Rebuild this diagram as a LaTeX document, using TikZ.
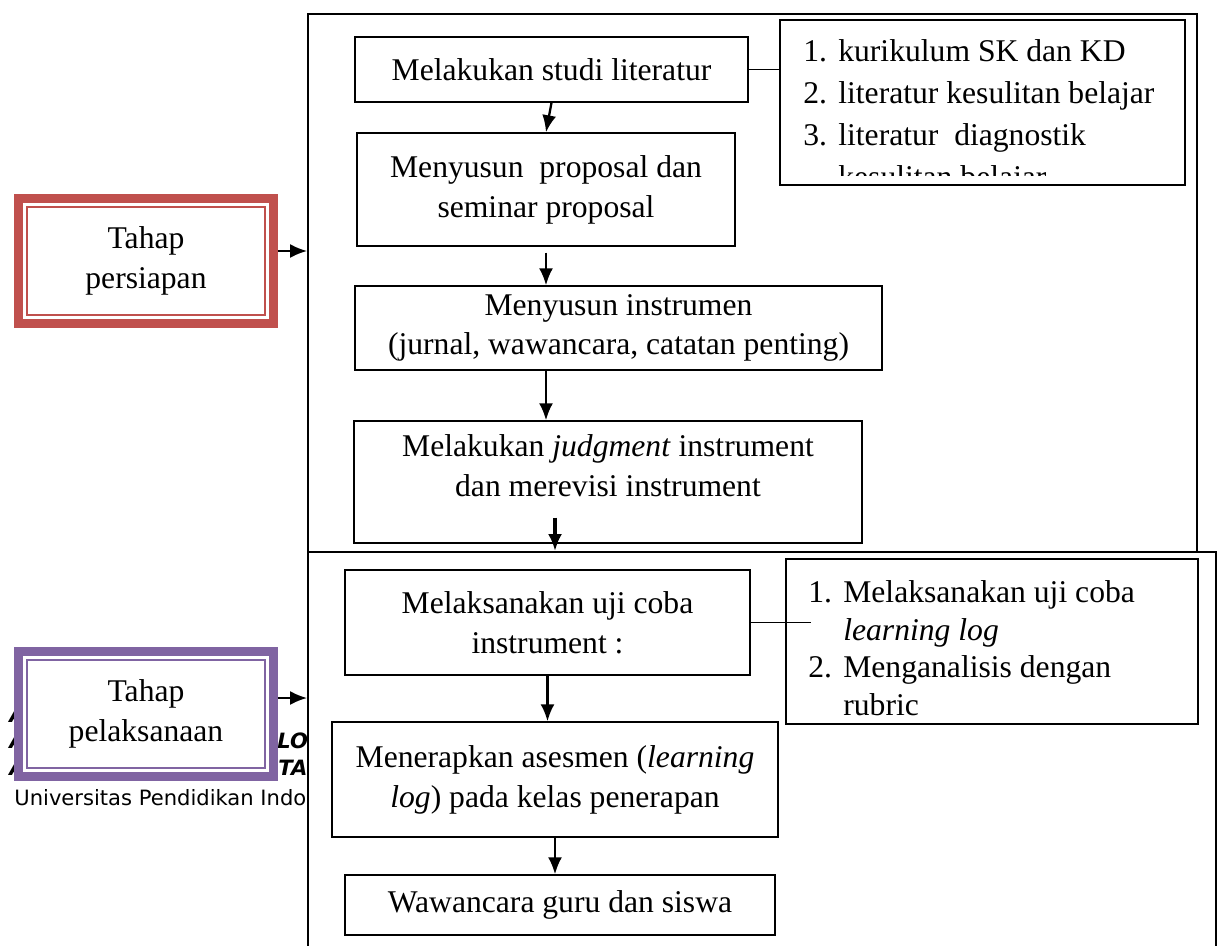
\documentclass[tikz,border=0pt]{standalone}
\usepackage{fontspec}
\setmainfont{Liberation Serif}
\newfontfamily\footfont{DejaVu Sans}
\usepackage{tikz}
\usetikzlibrary{arrows.meta}
\definecolor{prepred}{HTML}{C0504D}
\definecolor{runpurple}{HTML}{8064A2}
\tikzstyle{frame} = [rectangle, draw=black, line width=1.1pt, fill=white]
\tikzstyle{stepbox} = [rectangle, align=center, text centered, draw=black,
    line width=0.85pt, fill=white, font=\fontsize{18}{22.7}\selectfont]
\tikzstyle{listbox} = [rectangle, draw=black, line width=0.85pt, fill=white]
\tikzstyle{listtext} = [anchor=north west, inner sep=0pt, align=left]
\tikzstyle{phase} = [rectangle, minimum width=5.1cm, minimum height=2.5cm,
    align=center, line width=0.18cm, fill=white, font=\fontsize{18}{22.7}\selectfont]
\tikzstyle{foottext} = [anchor=base west, inner sep=0pt, font=\footfont\fontsize{12}{14}\selectfont]
\tikzstyle{footbold} = [foottext, font=\footfont\bfseries\itshape\fontsize{12}{14}\selectfont]
\tikzstyle{arrow} = [line width=1.3pt, -{Latex[length=0.34cm, width=0.28cm]}]

\begin{document}
\begin{tikzpicture}[x=0.02cm, y=-0.02cm]
    \useasboundingbox (0,0) rectangle (1224,946);
    \clip (0,0) rectangle (1224,946);
    % page footer behind the chart
    \node (foot) [foottext] at (14,805) {Universitas Pendidikan Indonesia};
    \node (foota) [footbold] at (9,722) {A};
    \node (footb) [footbold] at (9,748) {A};
    \node (footc) [footbold] at (9,775) {A};
    \node (footlog) [footbold] at (277,748) {LOG};
    \node (footta) [footbold] at (278,775) {TA};

    % frames
    \node (prepframe) [frame, minimum width=17.78cm, minimum height=10.76cm] at (752.5,283) {};
    \node (runframe) [frame, minimum width=18.16cm, minimum height=8.96cm] at (762,776) {};

    % phases
    \node (prep) [phase, draw=prepred] at (146,261) {Tahap\\persiapan};
    \draw [prepred, line width=0.9pt] ([shift={(0.26cm,-0.26cm)}]prep.north west) rectangle ([shift={(-0.26cm,0.26cm)}]prep.south east);
    \node (run) [phase, draw=runpurple] at (146,714) {Tahap\\pelaksanaan};
    \draw [runpurple, line width=0.9pt] ([shift={(0.26cm,-0.26cm)}]run.north west) rectangle ([shift={(-0.26cm,0.26cm)}]run.south east);

    % persiapan
    \node (studi) [stepbox, minimum width=7.86cm, minimum height=1.3cm] at (551.5,69.5) {Melakukan studi literatur};
    \node (list1) [listbox, minimum width=8.1cm, minimum height=3.3cm] at (982.5,102.5) {};
    \begin{scope}
        \clip ([xshift=0.1cm]list1.north west) rectangle ([yshift=0.2cm]list1.south east);
        \node (list1text) [listtext, font=\fontsize{18}{24}\selectfont] at (803,39)
            {\makebox[0.7cm][l]{1.}kurikulum SK dan KD\\
             \makebox[0.7cm][l]{2.}literatur kesulitan belajar\\
             \makebox[0.7cm][l]{3.}literatur\ \ diagnostik\\
             \hspace*{0.7cm}kesulitan belajar};
    \end{scope}
    \node (proposal) [stepbox, minimum width=7.56cm, minimum height=2.26cm] at (546,189.5) {Menyusun\ \ proposal dan\\seminar proposal};
    \node (instrumen) [stepbox, minimum width=10.54cm, minimum height=1.68cm] at (618.5,328) {Menyusun instrumen\\(jurnal, wawancara, catatan penting)};
    \node (judgment) [stepbox, minimum width=10.16cm, minimum height=2.44cm, text depth=0.66cm] at (608,482) {Melakukan \textit{judgment} instrument\\dan merevisi instrument};

    % pelaksanaan
    \node (ujicoba) [stepbox, minimum width=8.1cm, minimum height=2.1cm] at (547.5,622.5) {Melaksanakan uji coba\\instrument :};
    \node (list2) [listbox, minimum width=8.24cm, minimum height=3.3cm] at (992,641.5) {};
    \node (list2text) [listtext, font=\fontsize{18}{21.5}\selectfont] at (808,580)
        {\makebox[0.7cm][l]{1.}Melaksanakan uji coba\\
         \hspace*{0.7cm}\textit{learning log}\\
         \makebox[0.7cm][l]{2.}Menganalisis dengan\\
         \hspace*{0.7cm}rubric};
    \node (menerapkan) [stepbox, minimum width=8.92cm, minimum height=2.3cm] at (555,779.5) {Menerapkan asesmen (\textit{learning}\\\textit{log}) pada kelas penerapan};
    \node (wawancara) [stepbox, minimum width=8.6cm, minimum height=1.2cm] at (560,905) {Wawancara guru dan siswa};

    % connectors
    \draw [arrow] ([yshift=0.2cm]prep.east) -- ([yshift=0.2cm]prep.east -| prepframe.west);
    \draw [arrow] ([yshift=0.32cm]run.east) -- ([yshift=0.32cm]run.east -| runframe.west);
    \draw [arrow] (studi.south) -- (proposal.north);
    \draw [arrow] ([yshift=-0.12cm]proposal.south) -- (proposal.south |- instrumen.north);
    \draw [arrow] (proposal.south |- instrumen.south) -- (proposal.south |- judgment.north);
    \draw [arrow, line width=2pt] ([xshift=-1.06cm, yshift=0.52cm]judgment.south) -- ([xshift=-1.06cm]judgment.south |- runframe.north);
    \draw [arrow] (ujicoba.south) -- (ujicoba.south |- menerapkan.north);
    \draw [arrow] (menerapkan.south) -- (menerapkan.south |- wawancara.north);
    \draw [line width=0.85pt] (studi.east) -- (studi.east -| list1.west);
    \coordinate (tick) at ([xshift=0.52cm]list2.west |- ujicoba.east);
    \draw [line width=0.85pt] (ujicoba.east) -- (tick);
\end{tikzpicture}
\end{document}
